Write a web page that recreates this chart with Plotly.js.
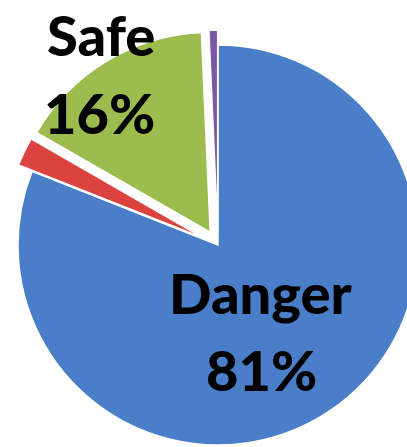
<!DOCTYPE html>
<html>
<head>
<meta charset="utf-8">
<script src="https://cdn.plot.ly/plotly-3.0.1.min.js"></script>
<style>
  html, body { margin:0; padding:0; overflow:hidden; background:#fff; width:407px; height:447px; }
  #chart { width:440px; height:460px; }
</style>
</head>
<body>
<div id="chart"></div>
<script>
// Data
const labels = ["Danger", "Unknown", "Safe", "Other"];
const values = [81, 2.3, 16, 0.7];
const colors = ["#4a7ec8", "#dc433f", "#9cbd4e", "#7a58a8"];
const pulls = [0, 0.075, 0.075, 0.075];

const W = 440, H = 460;
const px = x => x / W;
const py = y => (H - y) / H;

const labelFont = {family: "Lato, 'Open Sans', sans-serif", size: 56, color: "#000", weight: 900};

const trace = {
  type: "pie",
  labels: labels,
  values: values,
  sort: false,
  direction: "clockwise",
  rotation: 0,
  pull: pulls,
  textinfo: "none",
  hoverinfo: "label+percent",
  showlegend: false,
  marker: {colors: colors, line: {color: "#ffffff", width: 1.5}},
  domain: {x: [0, 436 / W], y: [0, 430 / H]}
};

const annotations = [
  {text: labels[0], x: px(260), y: py(292)},
  {text: Math.round(values[0]) + "%", x: px(261), y: py(369)},
  {text: labels[2], x: px(101), y: py(34)},
  {text: Math.round(values[2]) + "%", x: px(99), y: py(112)}
].map(a => Object.assign({
  xref: "paper", yref: "paper", xanchor: "center", yanchor: "middle",
  showarrow: false, font: labelFont
}, a));

const layout = {
  width: W, height: H,
  margin: {l: 0, r: 0, t: 0, b: 0},
  paper_bgcolor: "#ffffff",
  showlegend: false,
  annotations: annotations
};

Plotly.newPlot("chart", [trace], layout, {displayModeBar: false, staticPlot: true});
</script>
</body>
</html>
